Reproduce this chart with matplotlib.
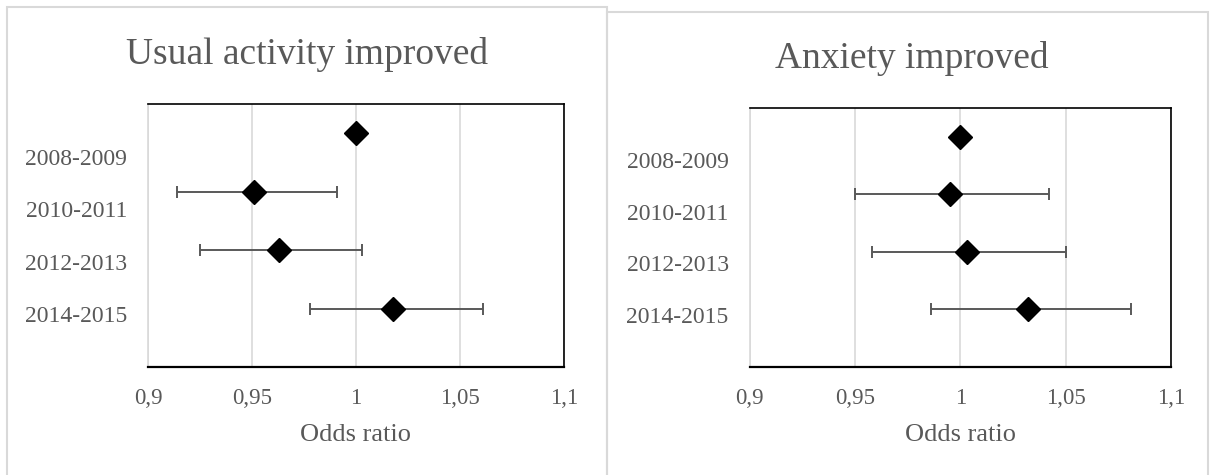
import matplotlib
matplotlib.use('Agg')
import matplotlib.pyplot as plt
from matplotlib.patches import Rectangle

periods = ['2008-2009', '2010-2011', '2012-2013', '2014-2015']

# usual activity improved
ua_or = [1.000, 0.951, 0.963, 1.018]
ua_low = [1.000, 0.914, 0.925, 0.978]
ua_high = [1.000, 0.991, 1.003, 1.061]

# anxiety improved
ax_or = [1.000, 0.995, 1.003, 1.032]
ax_low = [1.000, 0.950, 0.958, 0.986]
ax_high = [1.000, 1.042, 1.050, 1.081]

xticks = [0.9, 0.95, 1.0, 1.05, 1.1]
xtick_labels = ['0,9', '0,95', '1', '1,05', '1,1']

W, H = 1212, 475
TXT = '#595959'
GRID = '#d9d9d9'
plt.rcParams['font.family'] = ['Liberation Serif', 'DejaVu Serif']

fig = plt.figure(figsize=(W / 100, H / 100), dpi=100)


def px(x0, y0, x1, y1):
    return [x0 / W, 1 - y1 / H, (x1 - x0) / W, (y1 - y0) / H]


def panel(rect, title, title_xy, vals, lows, highs):
    ax = fig.add_axes(px(*rect))
    ypos = [4, 3, 2, 1]
    # first period is the reference, no interval
    for i in range(len(vals)):
        if lows[i] != highs[i]:
            ax.errorbar(vals[i], ypos[i],
                        xerr=[[vals[i] - lows[i]], [highs[i] - vals[i]]],
                        fmt='none', ecolor=TXT, elinewidth=1.4,
                        capsize=4, capthick=1.4, zorder=2)
    ax.plot(vals, ypos, 'D', color='black', markersize=12, zorder=3,
            linestyle='none')

    ax.set_xlim(0.9, 1.1)
    ax.set_ylim(0, 4.5)
    ax.set_xticks(xticks)
    ax.set_xticklabels(xtick_labels)
    ax.set_yticks([3.6, 2.7, 1.8, 0.9])
    ax.set_yticklabels(periods)
    ax.tick_params(axis='both', length=0, colors=TXT)
    ax.tick_params(axis='x', pad=15, labelsize=16.5)
    ax.tick_params(axis='y', pad=15, labelsize=17)
    ax.xaxis.grid(True, color=GRID, linewidth=1.2)
    ax.set_axisbelow(True)
    for s in ['top', 'right']:
        ax.spines[s].set_color('black')
        ax.spines[s].set_linewidth(1.2)
    ax.spines['bottom'].set_color('black')
    ax.spines['bottom'].set_linewidth(1.6)
    ax.spines['left'].set_color(GRID)
    ax.spines['left'].set_linewidth(1.2)

    cx = (rect[0] + rect[2]) / 2
    fig.text(cx / W, 1 - 441 / H, 'Odds ratio', ha='center', va='baseline',
             fontsize=19, color=TXT)
    fig.text(title_xy[0] / W, 1 - title_xy[1] / H, title, ha='center',
             va='baseline', fontsize=27, color=TXT)
    return ax


# chart frames
fig.patches.append(Rectangle((7 / W, -0.05), 600 / W, 1.05 - 7 / H,
                             transform=fig.transFigure, fill=False,
                             edgecolor=GRID, linewidth=1.5))
fig.patches.append(Rectangle((607 / W, -0.05), 601 / W, 1.05 - 12 / H,
                             transform=fig.transFigure, fill=False,
                             edgecolor=GRID, linewidth=1.5))

panel((148, 104, 564, 367), 'Usual activity improved', (307, 64),
      ua_or, ua_low, ua_high)
panel((749.5, 108, 1171, 367), 'Anxiety improved', (912, 68),
      ax_or, ax_low, ax_high)

fig.savefig('out.png', dpi=100)
